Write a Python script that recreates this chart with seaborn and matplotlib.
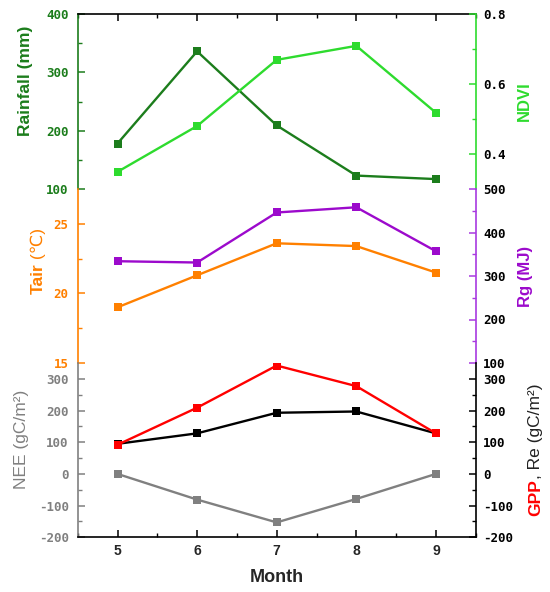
import matplotlib
matplotlib.use("Agg")
import matplotlib.pyplot as plt
from matplotlib.ticker import MultipleLocator, FixedLocator, FormatStrFormatter
import seaborn as sns
import numpy as np

# ---------------- data ----------------
months = [5, 6, 7, 8, 9]
rainfall = [178, 336, 209, 123, 117]          # mm
ndvi = [0.349, 0.480, 0.669, 0.709, 0.518]
tair = [19.0, 21.3, 23.6, 23.4, 21.5]         # degC
rg = [334, 331, 446, 458, 357]                # MJ
gpp = [92, 209, 342, 277, 128]                # gC/m2
re_ = [95, 128, 193, 197, 128]                # gC/m2
nee = [0, -81, -153, -79, 0]                  # gC/m2

month_ticks = [5, 6, 7, 8, 9]

# ---------------- style ----------------
sns.set_style("white")
plt.rcParams['font.family'] = ['Liberation Sans', 'DejaVu Sans']

C_RAIN = "#1C7D1C"
C_NDVI = "#2EDB2E"
C_TAIR = "#FF8000"
C_RG = "#9C0ACC"
C_RG_SP = "#A83AE0"
C_GPP = "#FF0000"
C_RE = "#000000"
C_NEE = "#808080"

W_PX, H_PX = 550, 592
fig = plt.figure(figsize=(W_PX / 100, H_PX / 100), dpi=100)

L_PX, R_PX = 77.7, 475.7
rows = [(14, 189), (189, 363), (363, 537.3)]


def make_ax(top, bot):
    return fig.add_axes([L_PX / W_PX, 1 - bot / H_PX, (R_PX - L_PX) / W_PX, (bot - top) / H_PX])


ax_top = make_ax(*rows[0])
ax_mid = make_ax(*rows[1])
ax_bot = make_ax(*rows[2])
tw_top = ax_top.twinx()
tw_mid = ax_mid.twinx()
tw_bot = ax_bot.twinx()

lw = 1.7
ms = 6.2


def line(ax, y, color):
    sns.lineplot(x=months, y=y, ax=ax, color=color, marker='s', markersize=ms,
                 markeredgewidth=0, linewidth=lw, legend=False)


line(ax_top, rainfall, C_RAIN)
line(tw_top, ndvi, C_NDVI)
line(ax_mid, tair, C_TAIR)
line(tw_mid, rg, C_RG)
line(ax_bot, nee, C_NEE)
line(tw_bot, re_, C_RE)
line(tw_bot, gpp, C_GPP)

tick_font = dict(family='DejaVu Sans Mono', size=9, weight='bold')

configs = [
    # (ax, ylim, major, minor, spine_color, label_color, side, fmt)
    (ax_top, (100, 400), [100, 200, 300, 400], [150, 250, 350], C_RAIN, C_RAIN, 'left', '%d'),
    (tw_top, (0.3, 0.8), [0.4, 0.6, 0.8], [0.5, 0.7], C_NDVI, 'black', 'right', '%.1f'),
    (ax_mid, (15, 27.5), [15, 20, 25], [17.5, 22.5], C_TAIR, C_TAIR, 'left', '%d'),
    (tw_mid, (100, 500), [100, 200, 300, 400, 500], [150, 250, 350, 450], C_RG_SP, 'black', 'right', '%d'),
    (ax_bot, (-200, 350), [-200, -100, 0, 100, 200, 300], [-150, -50, 50, 150, 250], C_NEE, C_NEE, 'left', '%d'),
    (tw_bot, (-200, 350), [-200, -100, 0, 100, 200, 300], [-150, -50, 50, 150, 250], 'black', 'black', 'right', '%d'),
]

for ax, ylim, major, minor, sc, lc, side, fmt in configs:
    ax.set_ylim(*ylim)
    ax.yaxis.set_major_locator(FixedLocator(major))
    ax.yaxis.set_minor_locator(FixedLocator(minor))
    ax.yaxis.set_major_formatter(FormatStrFormatter(fmt))
    ax.set_ylabel("")
    ax.set_xlabel("")
    for s in ['left', 'right', 'top', 'bottom']:
        ax.spines[s].set_visible(False)
    ax.spines[side].set_visible(True)
    ax.spines[side].set_color(sc)
    ax.spines[side].set_linewidth(1.2)
    pad = 6.5 if side == 'left' else 5.5
    ax.tick_params(axis='y', which='major', direction='in', length=5, width=1.1,
                   color=sc, labelcolor=lc, pad=pad)
    ax.tick_params(axis='y', which='minor', direction='in', length=3, width=1.0, color=sc)
    for lab in ax.get_yticklabels():
        lab.set_fontproperties(matplotlib.font_manager.FontProperties(**tick_font))
    ax.set_facecolor('none')
    ax.grid(False)

# x axes
for ax in [ax_top, ax_mid, ax_bot, tw_top, tw_mid, tw_bot]:
    ax.set_xlim(4.5, 9.5)
    ax.xaxis.set_major_locator(FixedLocator(month_ticks))
    ax.xaxis.set_minor_locator(MultipleLocator(0.5))
    ax.tick_params(axis='x', which='both', bottom=False, top=False,
                   labelbottom=False, labeltop=False)

ax_top.spines['top'].set_visible(True)
ax_top.spines['top'].set_color('black')
ax_top.spines['top'].set_linewidth(1.2)
ax_top.tick_params(axis='x', which='major', top=True, direction='in', length=5, width=1.1, color='black')
ax_top.tick_params(axis='x', which='minor', top=True, direction='in', length=3, width=1.0, color='black')

ax_bot.spines['bottom'].set_visible(True)
ax_bot.spines['bottom'].set_color('black')
ax_bot.spines['bottom'].set_linewidth(1.2)
ax_bot.tick_params(axis='x', which='major', bottom=True, labelbottom=True, direction='in',
                   length=5, width=1.1, color='black', pad=5)
ax_bot.tick_params(axis='x', which='minor', bottom=True, direction='in', length=3, width=1.0, color='black')
for lab in ax_bot.get_xticklabels():
    lab.set_fontweight('bold')
    lab.set_fontsize(10)
ax_bot.set_xlabel("Month", fontsize=13, fontweight='bold', labelpad=8)

# ---------------- rotated multi-colour labels ----------------
renderer = fig.canvas.get_renderer()


def vlabel(cx_px, cy_px, parts, size=12.5):
    texts = []
    for txt, color, weight in parts:
        t = fig.text(0, 0, txt, color=color, fontsize=size, fontweight=weight,
                     rotation=90, rotation_mode='anchor', ha='left', va='baseline')
        texts.append(t)
    lengths = [t.get_window_extent(renderer).height for t in texts]
    total = sum(lengths)
    y = (H_PX - cy_px) - total / 2
    bx = cx_px + size * 100 / 72 * 0.36
    for t, ln in zip(texts, lengths):
        t.set_position((bx / W_PX, y / H_PX))
        y += ln


vlabel(24, 81, [("Rainfall (mm)", C_RAIN, 'bold')], size=12.5)
vlabel(523, 101, [("NDVI", C_NDVI, 'bold')], size=12)
vlabel(36.5, 261, [("Tair", C_TAIR, 'bold'), (" (℃)", C_TAIR, 'normal')], size=12.5)
vlabel(524, 276, [("Rg (MJ)", C_RG, 'bold')], size=12)
vlabel(19.5, 439, [("NEE (gC/m²)", C_NEE, 'normal')], size=12.5)
vlabel(534, 449.5, [("GPP", C_GPP, 'bold'), (", Re (gC/m²)", '#222222', 'normal')], size=12.5)

fig.savefig("out.png", dpi=100, facecolor='white')
